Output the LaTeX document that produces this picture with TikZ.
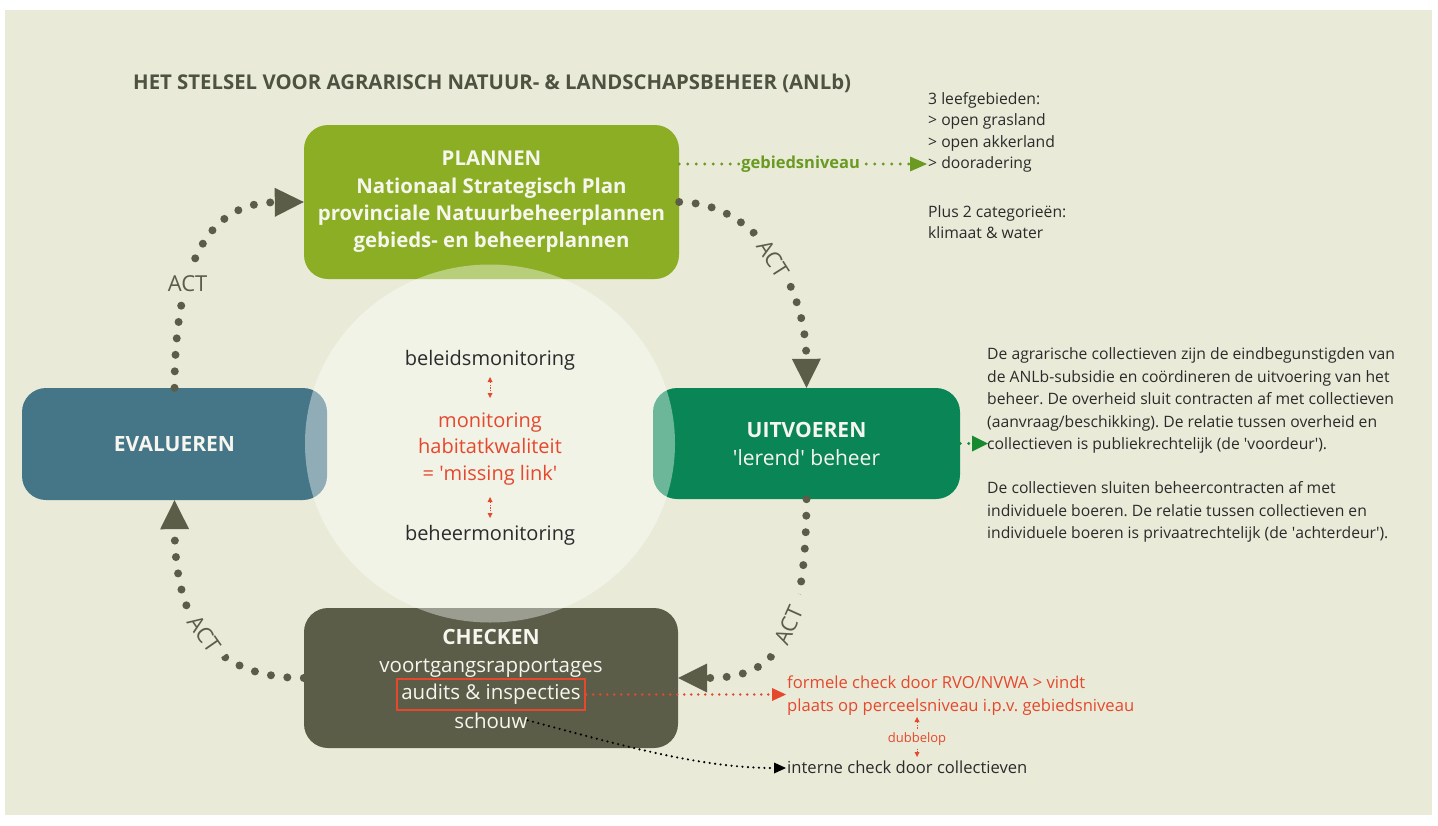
\documentclass[tikz,border=0pt]{standalone}
\usepackage{fontspec}
\setmainfont{Open Sans}
\usetikzlibrary{arrows.meta}
\frenchspacing
\definecolor{bg}{HTML}{E9EBD8}
\definecolor{planc}{HTML}{8BAE24}
\definecolor{evalc}{HTML}{457688}
\definecolor{uitvc}{HTML}{0A8656}
\definecolor{chkc}{HTML}{5B5D48}
\definecolor{ttlc}{HTML}{4E5341}
\definecolor{redc}{HTML}{E5482D}
\definecolor{txtc}{HTML}{2B2B2B}
\definecolor{gnc}{HTML}{6A9A22}
\definecolor{gndc}{HTML}{178A30}
\definecolor{boxtxt}{HTML}{F6F6EF}
\newcommand{\fs}[2]{\fontsize{#1}{#2}\selectfont}
\newcommand{\sq}{\textquotesingle}
\tikzset{
  phase/.style={rounded corners=24pt, inner sep=0pt, align=center, text=boxtxt},
  cyc/.style={draw=chkc, line width=8pt, line cap=round, dash pattern=on 0pt off 16.5pt,
    -{Triangle[length=29pt,width=29pt,line width=0pt]}},
  actl/.style={fill=bg, text=chkc, font=\fs{22}{22}, inner xsep=9pt, inner ysep=8pt},
  sdot/.style={line width=3.2pt, line cap=round, dash pattern=on 0pt off 8.5pt},
  body/.style={text=txtc, font=\fs{15.7}{22}, inner sep=0pt, anchor=base west},
  note/.style={body, font=\fs{16.6}{22}},
  ctr/.style={font=\fs{20}{20}, inner sep=0pt, anchor=base},
  boxline/.style={text=boxtxt, font=\fs{20.5}{20}, inner sep=0pt, anchor=base},
  tinyarr/.style={draw=redc, line width=0.9pt, dash pattern=on 1.2pt off 1.5pt,
    -{Triangle[length=5pt,width=5pt,line width=0pt]}}
}
\begin{document}
\begin{tikzpicture}[x=1pt,y=-1pt]
\useasboundingbox (0,0) rectangle (1438,825);
\fill[white] (0,0) rectangle (1438,825);
\fill[bg] (5,10) rectangle (1432,815);

% title
\node[anchor=base west, text=ttlc, font=\bfseries\fs{20.35}{20}, inner sep=0pt] (title) at (133,89)
  {HET STELSEL VOOR AGRARISCH NATUUR- \& LANDSCHAPSBEHEER (ANLb)};

% phase boxes
\node[phase, fill=planc, minimum width=375pt, minimum height=154pt, font=\bfseries\fs{20.4}{27.3}] (plan) at (491.5,202)
  {PLANNEN\\Nationaal Strategisch Plan\\provinciale Natuurbeheerplannen\\gebieds- en beheerplannen};
\node[phase, fill=evalc, minimum width=305pt, minimum height=112pt, font=\bfseries\fs{21}{27}] (eval) at (174.5,444) {EVALUEREN};
\node[phase, fill=uitvc, minimum width=307pt, minimum height=111pt, font=\fs{21}{28}] (uitv) at (806.5,443.5)
  {\textbf{UITVOEREN}\\\sq lerend\sq{} beheer};
\node[phase, fill=chkc, minimum width=374pt, minimum height=140pt] (chk) at (491,678) {};

% central circle
\fill[white, opacity=0.4] (490,443.5) ellipse [x radius=185pt, y radius=179pt];

% checken text
\node[boxline, font=\bfseries\fs{21}{21}] (chkT) at (491,644) {CHECKEN};
\node[boxline] (chk1) at (491,672) {voortgangsrapportages};
\node[draw=redc, line width=2.5pt, text=boxtxt, font=\fs{20.5}{20}, minimum width=188pt, minimum height=31pt, inner sep=0pt] (aud) at (491,694.5) {audits \& inspecties};
\node[boxline] (sch) at (491,728) {schouw};

% centre texts
\node[ctr, text=txtc] (bel) at (490,365.5) {beleidsmonitoring};
\node[ctr, text=redc] (mon) at (490,427.5) {monitoring};
\node[ctr, text=redc] (hab) at (490,453.5) {habitatkwaliteit};
\node[ctr, text=redc] (mis) at (490,480.5) {= \sq missing link\sq};
\node[ctr, text=txtc] (bhm) at (490,540.5) {beheermonitoring};
\coordinate (c1a) at (490,377); \coordinate (c1b) at (490,398);
\coordinate (c2a) at (490,497); \coordinate (c2b) at (490,518);
\draw[tinyarr, {Triangle[length=5pt,width=5pt,line width=0pt]}-{Triangle[length=5pt,width=5pt,line width=0pt]}] (c1a) -- (c1b);
\draw[tinyarr, {Triangle[length=5pt,width=5pt,line width=0pt]}-{Triangle[length=5pt,width=5pt,line width=0pt]}] (c2a) -- (c2b);

% cycle connectors
\draw[cyc] (eval.north) .. controls (175,270) and (205,203) .. (plan.west)
  node[actl, pos=0.35] (act1) {ACT};
\draw[cyc] (plan.east) .. controls (760,203) and (806,290) .. (uitv.north)
  node[actl, pos=0.5, sloped] (act2) {ACT};
\draw[cyc] (uitv.south) .. controls (806,650) and (770,678) .. (chk.east)
  node[actl, pos=0.39, sloped, inner xsep=13pt, inner ysep=11pt] (act3) {ACT};
\draw[cyc] (chk.west) .. controls (210,678) and (175,620) .. (eval.south)
  node[actl, pos=0.5, sloped] (act4) {ACT};

% gebiedsniveau
\coordinate (gE) at (927,164);
\draw[sdot, draw=gnc, -{Triangle[length=17pt,width=15pt,line width=0pt]}] (plan.east |- gE) -- (gE)
  node[pos=0.49, fill=bg, text=gnc, font=\bfseries\fs{16.5}{16}, inner sep=1.5pt] (gebl) {gebiedsniveau};

\foreach \t/\yy [count=\i] in {{3 leefgebieden:}/104.5, {> open grasland}/125.5, {> open akkerland}/147, {> dooradering}/168, {Plus 2 categorieën:}/217.5, {klimaat \& water}/238}
  \node[body] (tr\i) at (928,\yy) {\t};

% uitvoeren -> paragraph
\coordinate (uE) at (988,443.5);
\draw[sdot, draw=gndc, -{Triangle[length=16pt,width=16pt,line width=0pt]}] (uitv.east) -- (uE);

\foreach \t [count=\i from 0] in {{De agrarische collectieven zijn de eindbegunstigden van},
  {de ANLb-subsidie en coördineren de uitvoering van het},
  {beheer. De overheid sluit contracten af met collectieven},
  {(aanvraag/beschikking). De relatie tussen overheid en},
  {collectieven is publiekrechtelijk (de \sq voordeur\sq).}}
  \node[body] (pa\i) at (987,359.5+22.5*\i) {\t};
\foreach \t [count=\i from 0] in {{De collectieven sluiten beheercontracten af met},
  {individuele boeren. De relatie tussen collectieven en},
  {individuele boeren is privaatrechtelijk (de \sq achterdeur\sq).}}
  \node[body] (pb\i) at (987,493.5+22.5*\i) {\t};

% red formal check
\coordinate (rE) at (786,694.5);
\draw[sdot, draw=redc, line width=2.6pt, dash pattern=on 0pt off 7pt, -{Triangle[length=14pt,width=13pt,line width=0pt]}] (aud.east) -- (rE);
\node[note, text=redc] (f1) at (787,688) {formele check door RVO/NVWA > vindt};
\node[note, text=redc] (f2) at (787,711.5) {plaats op perceelsniveau i.p.v. gebiedsniveau};

% internal check
\coordinate (bE) at (786,768);
\draw[sdot, draw=black, line width=2.4pt, dash pattern=on 0pt off 5.5pt, -{Triangle[length=12pt,width=11pt,line width=0pt]}] (sch.east) .. controls (620,745) and (700,768) .. (bE);
\node[note] (int) at (787,773.5) {interne check door collectieven};

% dubbelop
\node[text=redc, font=\fs{13}{13}, anchor=base] (dub) at (917,742) {dubbelop};
\coordinate (dU) at (917,717); \coordinate (dD) at (917,757);
\draw[tinyarr] (dub.north) -- (dU);
\draw[tinyarr] (dub.south) -- (dD);
\end{tikzpicture}
\end{document}
